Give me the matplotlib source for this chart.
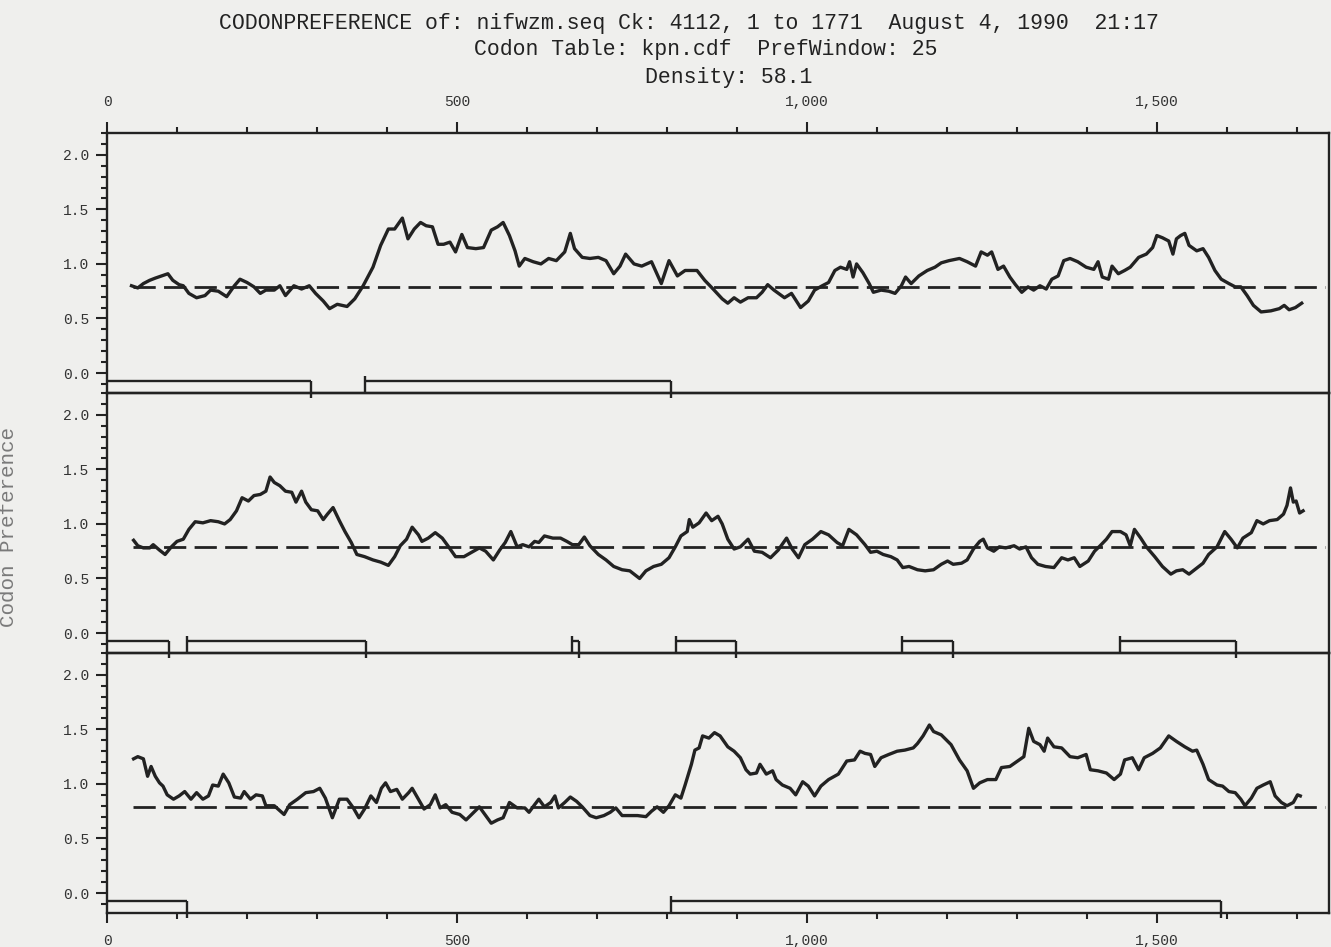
import matplotlib
matplotlib.use('Agg')
import matplotlib.pyplot as plt
from matplotlib.ticker import MultipleLocator, FixedLocator, FuncFormatter, FormatStrFormatter

# --- codon preference curves (position in bp, preference value) ---
p1_pos = [35, 44, 52, 61, 69, 78, 87, 94, 103, 109, 117, 128, 140, 148, 159, 171, 182, 190, 200, 210,
          219, 227, 239, 247, 255, 267, 278, 289, 298, 309, 318, 329, 343, 354, 366, 380, 391, 402, 411, 422,
          430, 439, 448, 456, 465, 473, 481, 490, 498, 507, 515, 527, 538, 549, 558, 566, 575, 583, 589, 597,
          609, 620, 631, 642, 654, 662, 668, 679, 690, 702, 713, 724, 733, 741, 753, 764, 778, 792, 803, 815,
          826, 843, 854, 866, 879, 887, 896, 905, 916, 928, 936, 944, 953, 968, 978, 991, 1002, 1011, 1022, 1031,
          1040, 1048, 1057, 1061, 1066, 1071, 1080, 1089, 1095, 1106, 1117, 1126, 1135, 1141, 1149, 1160, 1172, 1183, 1192, 1203,
          1218, 1229, 1241, 1249, 1258, 1264, 1273, 1281, 1290, 1298, 1307, 1316, 1324, 1333, 1342, 1350, 1359, 1367, 1376, 1387,
          1399, 1410, 1416, 1422, 1431, 1436, 1445, 1454, 1462, 1474, 1485, 1494, 1500, 1508, 1517, 1523, 1528, 1534, 1540, 1546,
          1557, 1566, 1574, 1583, 1592, 1603, 1612, 1620, 1629, 1638, 1649, 1663, 1675, 1682, 1689, 1698, 1707]
p1_pref = [0.80, 0.78, 0.82, 0.85, 0.87, 0.89, 0.91, 0.85, 0.81, 0.80, 0.73, 0.69, 0.71, 0.76, 0.75, 0.70, 0.80, 0.86, 0.83, 0.79,
           0.73, 0.76, 0.76, 0.80, 0.71, 0.80, 0.77, 0.80, 0.73, 0.66, 0.59, 0.63, 0.61, 0.68, 0.80, 0.97, 1.17, 1.32, 1.32, 1.42,
           1.23, 1.32, 1.38, 1.35, 1.34, 1.18, 1.18, 1.20, 1.11, 1.27, 1.15, 1.14, 1.15, 1.31, 1.34, 1.38, 1.26, 1.12, 0.98, 1.05,
           1.02, 1.00, 1.05, 1.03, 1.11, 1.28, 1.14, 1.06, 1.05, 1.06, 1.03, 0.91, 0.98, 1.09, 1.00, 0.98, 1.02, 0.82, 1.03, 0.89,
           0.94, 0.94, 0.85, 0.77, 0.68, 0.64, 0.69, 0.65, 0.69, 0.69, 0.74, 0.81, 0.76, 0.69, 0.73, 0.60, 0.66, 0.76, 0.80, 0.83,
           0.94, 0.97, 0.95, 1.02, 0.88, 1.00, 0.92, 0.82, 0.74, 0.76, 0.75, 0.73, 0.80, 0.88, 0.82, 0.89, 0.94, 0.97, 1.01, 1.03,
           1.05, 1.02, 0.98, 1.11, 1.08, 1.11, 0.95, 0.98, 0.88, 0.81, 0.74, 0.79, 0.76, 0.80, 0.77, 0.86, 0.89, 1.03, 1.05, 1.02,
           0.97, 0.95, 1.02, 0.88, 0.86, 0.98, 0.91, 0.94, 0.97, 1.06, 1.09, 1.15, 1.26, 1.24, 1.21, 1.09, 1.23, 1.26, 1.28, 1.17,
           1.12, 1.14, 1.06, 0.94, 0.86, 0.82, 0.79, 0.79, 0.71, 0.62, 0.56, 0.57, 0.59, 0.62, 0.58, 0.60, 0.64]

p2_pos = [38, 44, 52, 61, 66, 75, 83, 92, 100, 109, 117, 126, 137, 148, 159, 168, 176, 185, 193, 202,
          210, 219, 227, 233, 239, 247, 255, 264, 270, 278, 284, 292, 301, 309, 315, 323, 332, 340, 349, 357,
          368, 380, 391, 402, 411, 419, 428, 436, 445, 450, 459, 469, 479, 487, 498, 510, 521, 532, 541, 552,
          561, 569, 577, 586, 594, 603, 611, 617, 625, 637, 648, 657, 665, 674, 682, 690, 702, 713, 724, 736,
          747, 761, 770, 781, 792, 803, 812, 820, 829, 832, 837, 846, 856, 864, 873, 879, 887, 896, 905, 916,
          925, 936, 948, 959, 971, 979, 988, 997, 1008, 1020, 1031, 1043, 1051, 1060, 1071, 1083, 1091, 1100, 1109, 1120,
          1129, 1137, 1146, 1158, 1169, 1181, 1192, 1201, 1209, 1221, 1229, 1238, 1247, 1252, 1258, 1267, 1275, 1284, 1296, 1304,
          1313, 1321, 1330, 1341, 1353, 1364, 1373, 1382, 1390, 1402, 1411, 1419, 1428, 1436, 1448, 1456, 1462, 1468, 1477, 1485,
          1497, 1508, 1520, 1528, 1537, 1546, 1554, 1566, 1574, 1586, 1597, 1606, 1615, 1623, 1635, 1643, 1652, 1661, 1672, 1681,
          1686, 1691, 1695, 1699, 1704, 1709]
p2_pref = [0.85, 0.80, 0.78, 0.78, 0.81, 0.76, 0.72, 0.79, 0.84, 0.86, 0.95, 1.02, 1.01, 1.03, 1.02, 1.00, 1.04, 1.12, 1.24, 1.21,
           1.26, 1.27, 1.30, 1.43, 1.38, 1.35, 1.30, 1.29, 1.20, 1.30, 1.20, 1.13, 1.12, 1.04, 1.09, 1.15, 1.03, 0.93, 0.83, 0.72,
           0.70, 0.67, 0.65, 0.62, 0.70, 0.80, 0.86, 0.97, 0.90, 0.84, 0.87, 0.92, 0.87, 0.80, 0.70, 0.70, 0.74, 0.78, 0.75, 0.67,
           0.76, 0.83, 0.93, 0.79, 0.81, 0.79, 0.84, 0.83, 0.89, 0.87, 0.87, 0.84, 0.81, 0.81, 0.88, 0.80, 0.72, 0.67, 0.61, 0.58,
           0.57, 0.50, 0.57, 0.61, 0.63, 0.69, 0.79, 0.89, 0.93, 1.04, 0.97, 1.01, 1.10, 1.03, 1.07, 1.00, 0.86, 0.77, 0.79, 0.86,
           0.75, 0.74, 0.69, 0.76, 0.87, 0.77, 0.69, 0.81, 0.86, 0.93, 0.90, 0.83, 0.80, 0.95, 0.90, 0.81, 0.74, 0.75, 0.72, 0.70,
           0.67, 0.60, 0.61, 0.58, 0.57, 0.58, 0.63, 0.66, 0.63, 0.64, 0.67, 0.77, 0.84, 0.86, 0.78, 0.75, 0.79, 0.78, 0.80, 0.77,
           0.79, 0.69, 0.63, 0.61, 0.60, 0.69, 0.67, 0.69, 0.61, 0.66, 0.75, 0.80, 0.86, 0.93, 0.93, 0.90, 0.80, 0.95, 0.87, 0.79,
           0.70, 0.61, 0.54, 0.57, 0.58, 0.54, 0.58, 0.64, 0.72, 0.79, 0.93, 0.86, 0.78, 0.87, 0.92, 1.03, 1.00, 1.03, 1.04, 1.09,
           1.17, 1.33, 1.20, 1.21, 1.10, 1.12]

p3_pos = [38, 44, 52, 58, 63, 69, 75, 80, 86, 95, 103, 111, 120, 128, 137, 145, 151, 159, 166, 174,
          182, 191, 196, 205, 213, 222, 227, 239, 253, 261, 272, 284, 295, 304, 312, 322, 332, 343, 352, 360,
          368, 377, 385, 392, 398, 405, 414, 422, 431, 436, 445, 453, 462, 469, 476, 484, 493, 504, 513, 524,
          532, 541, 549, 558, 566, 575, 586, 597, 603, 611, 617, 625, 634, 640, 645, 654, 662, 671, 679, 690,
          699, 710, 719, 727, 736, 747, 758, 770, 778, 786, 795, 803, 812, 820, 826, 835, 840, 846, 851, 860,
          868, 876, 887, 896, 905, 913, 919, 928, 933, 942, 951, 956, 965, 976, 984, 994, 1002, 1011, 1020, 1031,
          1045, 1057, 1068, 1076, 1083, 1091, 1097, 1106, 1117, 1129, 1140, 1152, 1158, 1166, 1175, 1181, 1192, 1206, 1218, 1229,
          1238, 1247, 1258, 1270, 1278, 1290, 1301, 1310, 1317, 1324, 1333, 1339, 1344, 1353, 1364, 1376, 1387, 1399, 1405, 1416,
          1428, 1439, 1448, 1454, 1465, 1474, 1482, 1494, 1505, 1517, 1528, 1540, 1551, 1557, 1566, 1574, 1586, 1594, 1603, 1612,
          1620, 1626, 1635, 1643, 1652, 1662, 1669, 1678, 1686, 1695, 1701, 1705]
p3_pref = [1.23, 1.25, 1.23, 1.07, 1.16, 1.07, 1.01, 0.98, 0.90, 0.86, 0.89, 0.93, 0.86, 0.92, 0.86, 0.89, 0.99, 0.98, 1.09, 1.01,
           0.88, 0.87, 0.93, 0.86, 0.90, 0.89, 0.80, 0.80, 0.72, 0.81, 0.86, 0.92, 0.93, 0.96, 0.87, 0.69, 0.86, 0.86, 0.78, 0.69,
           0.77, 0.89, 0.83, 0.96, 1.01, 0.93, 0.95, 0.86, 0.92, 0.96, 0.86, 0.77, 0.81, 0.90, 0.78, 0.81, 0.74, 0.72, 0.67, 0.74,
           0.79, 0.71, 0.64, 0.67, 0.69, 0.83, 0.78, 0.78, 0.74, 0.81, 0.86, 0.79, 0.83, 0.89, 0.78, 0.83, 0.88, 0.84, 0.79, 0.71,
           0.69, 0.71, 0.74, 0.78, 0.71, 0.71, 0.71, 0.70, 0.75, 0.79, 0.74, 0.80, 0.90, 0.87, 0.99, 1.18, 1.31, 1.33, 1.44, 1.42,
           1.47, 1.44, 1.34, 1.30, 1.24, 1.13, 1.09, 1.10, 1.18, 1.09, 1.12, 1.04, 0.99, 0.96, 0.90, 1.02, 0.98, 0.89, 0.98, 1.04,
           1.09, 1.21, 1.22, 1.30, 1.28, 1.27, 1.16, 1.24, 1.27, 1.30, 1.31, 1.33, 1.37, 1.44, 1.54, 1.48, 1.45, 1.36, 1.22, 1.12,
           0.96, 1.01, 1.04, 1.04, 1.15, 1.16, 1.21, 1.25, 1.51, 1.39, 1.36, 1.30, 1.42, 1.34, 1.33, 1.25, 1.24, 1.27, 1.13, 1.12,
           1.10, 1.04, 1.09, 1.22, 1.24, 1.13, 1.24, 1.28, 1.33, 1.44, 1.39, 1.34, 1.30, 1.31, 1.18, 1.04, 0.99, 0.98, 0.93, 0.92,
           0.86, 0.80, 0.87, 0.96, 0.99, 1.02, 0.89, 0.83, 0.80, 0.83, 0.90, 0.89]

# open reading frames per reading frame: begin / end in bp (begin 0 = open at sequence start)
p1_orf_begin = [0, 368]
p1_orf_end = [291, 806]
p2_orf_begin = [0, 115, 665, 813, 1136, 1447]
p2_orf_end = [88, 370, 674, 899, 1209, 1613]
p3_orf_begin = [0, 806]
p3_orf_end = [114, 1591]

random_pref = 0.79
title_lines = ['CODONPREFERENCE of: nifwzm.seq Ck: 4112, 1 to 1771  August 4, 1990  21:17',
               'Codon Table: kpn.cdf  PrefWindow: 25',
               'Density: 58.1']

INK = '#222222'
PAPER = '#efefed'
MONO = 'Liberation Mono'
W, H = 1331, 947


def draw_panel(ax, pos, pref, orf_begin, orf_end):
    ax.set_xlim(0, 1746)
    ax.set_ylim(-0.183, 2.2)
    ax.patch.set_alpha(0)

    ax.hlines(random_pref, 37, 1740, color=INK, lw=2.0, linestyles=(0, (16, 6)))
    ax.plot(pos, pref, color=INK, lw=2.4, solid_joinstyle='round')

    bar_y = -0.07
    for b, e in zip(orf_begin, orf_end):
        ax.hlines(bar_y, b, e, color=INK, lw=1.7)
        if b > 0:
            ax.vlines(b, -0.183, -0.03, color=INK, lw=1.7, clip_on=False)
        ax.vlines(e, bar_y, -0.225, color=INK, lw=1.7, clip_on=False)

    for s in ax.spines.values():
        s.set_linewidth(1.7)
        s.set_color(INK)

    ax.yaxis.set_major_locator(MultipleLocator(0.5))
    ax.yaxis.set_minor_locator(FixedLocator([v / 10 for v in range(-1, 23)]))
    ax.yaxis.set_major_formatter(FormatStrFormatter('%.1f'))
    ax.tick_params(axis='y', which='major', direction='out', length=8, width=1.5,
                   color=INK, pad=5, labelsize=10.5, labelcolor='#333333')
    ax.tick_params(axis='y', which='minor', direction='out', length=4, width=1.5, color=INK)

    ax.xaxis.set_major_locator(MultipleLocator(500))
    ax.xaxis.set_minor_locator(MultipleLocator(100))
    ax.xaxis.set_major_formatter(FuncFormatter(lambda v, p: f'{v:,.0f}'))
    ax.tick_params(axis='x', which='both', bottom=False, top=False,
                   labelbottom=False, labeltop=False)
    for t in ax.get_yticklabels():
        t.set_family(MONO)


def main():
    plt.rcParams['lines.scale_dashes'] = False
    fig = plt.figure(figsize=(W / 100, H / 100), dpi=100, facecolor=PAPER)

    left = 107 / W
    width = (1329 - 107) / W
    tops = [133, 393, 653]
    panels = [(p1_pos, p1_pref, p1_orf_begin, p1_orf_end),
              (p2_pos, p2_pref, p2_orf_begin, p2_orf_end),
              (p3_pos, p3_pref, p3_orf_begin, p3_orf_end)]
    axes = []
    for top, data in zip(tops, panels):
        ax = fig.add_axes([left, (H - top - 260) / H, width, 260 / H])
        draw_panel(ax, *data)
        axes.append(ax)

    # position scale on top of the first and bottom of the last frame
    axes[0].tick_params(axis='x', which='both', top=True, labeltop=True, direction='out',
                        color=INK, width=1.5, labelsize=10.5, labelcolor='#333333')
    axes[0].tick_params(axis='x', which='major', length=8, pad=9)
    axes[0].tick_params(axis='x', which='minor', length=4.5)
    axes[2].tick_params(axis='x', which='both', bottom=True, labelbottom=True, direction='out',
                        color=INK, width=1.5, labelsize=10.5, labelcolor='#333333')
    axes[2].tick_params(axis='x', which='major', length=7, pad=8)
    axes[2].tick_params(axis='x', which='minor', length=4)
    for ax in (axes[0], axes[2]):
        for t in ax.get_xticklabels():
            t.set_family(MONO)

    for text, x_px, y_px in zip(title_lines, [219, 474, 645], [23, 50, 78]):
        fig.text(x_px / W, 1 - y_px / H, text, ha='left', va='center',
                 fontsize=15.5, family=MONO, color=INK)

    fig.text(9 / W, 1 - 527 / H, 'Codon Preference', rotation=90, ha='center', va='center',
             fontsize=15, family=MONO, color='#7a7a7a')

    fig.savefig('out.png', dpi=100, facecolor=PAPER)
    plt.close(fig)


if __name__ == '__main__':
    main()
